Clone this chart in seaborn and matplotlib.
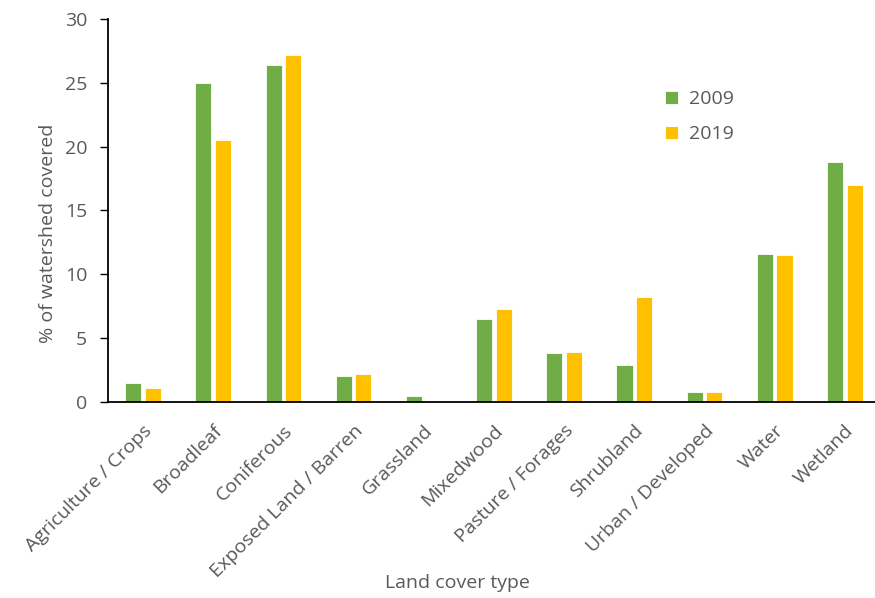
import matplotlib
matplotlib.use("Agg")
import matplotlib.pyplot as plt
import seaborn as sns
import pandas as pd

categories = ["Agriculture / Crops", "Broadleaf", "Coniferous", "Exposed Land / Barren",
              "Grassland", "Mixedwood", "Pasture / Forages", "Shrubland",
              "Urban / Developed", "Water", "Wetland"]
values_2009 = [1.5, 25.0, 26.4, 2.0, 0.5, 6.5, 3.8, 2.9, 0.8, 11.6, 18.8]
values_2019 = [1.1, 20.5, 27.2, 2.2, 0.0, 7.3, 3.9, 8.2, 0.8, 11.5, 17.0]
years = ["2009", "2019"]
y_ticks = [0, 5, 10, 15, 20, 25, 30]

df = pd.DataFrame({
    "category": categories * 2,
    "year": [years[0]] * len(categories) + [years[1]] * len(categories),
    "value": values_2009 + values_2019,
})

sns.set_theme(style="white")
plt.rcParams["font.family"] = ["Open Sans", "DejaVu Sans"]
text_color = "#595959"
fs = 14

fig = plt.figure(figsize=(8.75, 5.98), dpi=100)
ax = fig.add_axes([0.1234, 0.3278, 0.8766, 0.6404])

sns.barplot(data=df, x="category", y="value", hue="year", order=categories,
            hue_order=years, palette=["#70AD47", "#FFC000"], saturation=1,
            width=0.56, gap=0.18, edgecolor="white", linewidth=0.6, ax=ax)

ax.set_ylim(0, 30)
ax.set_xlim(-0.5, 10.43)
ax.set_yticks(y_ticks)
ax.set_yticklabels([str(t) for t in y_ticks], fontsize=fs, color=text_color)
ax.tick_params(axis="y", which="major", direction="out", length=6, width=1,
               color="black", pad=9, left=True)
ax.tick_params(axis="x", length=0, pad=14)
ax.set_xticks(range(len(categories)))
ax.set_xticklabels(categories, rotation=45, ha="right", rotation_mode="anchor",
                   fontsize=fs, color=text_color)

for side in ["top", "right"]:
    ax.spines[side].set_visible(False)
for side in ["left", "bottom"]:
    ax.spines[side].set_color("black")
    ax.spines[side].set_linewidth(1.3)

ax.set_ylabel("% of watershed covered", fontsize=fs, color=text_color)
ax.yaxis.set_label_coords(-0.078, 0.44)
ax.yaxis.label.set_verticalalignment("center")
ax.set_xlabel("Land cover type", fontsize=fs, color=text_color)
ax.xaxis.set_label_coords(0.456, -0.473)
ax.xaxis.label.set_verticalalignment("center")

leg = ax.legend(loc="center left", bbox_to_anchor=(0.714, 0.745), frameon=False,
                fontsize=fs, handlelength=0.65, handleheight=0.65,
                handletextpad=0.55, labelspacing=0.85, borderpad=0)
for t in leg.get_texts():
    t.set_color(text_color)

fig.savefig("out.png", dpi=100)
